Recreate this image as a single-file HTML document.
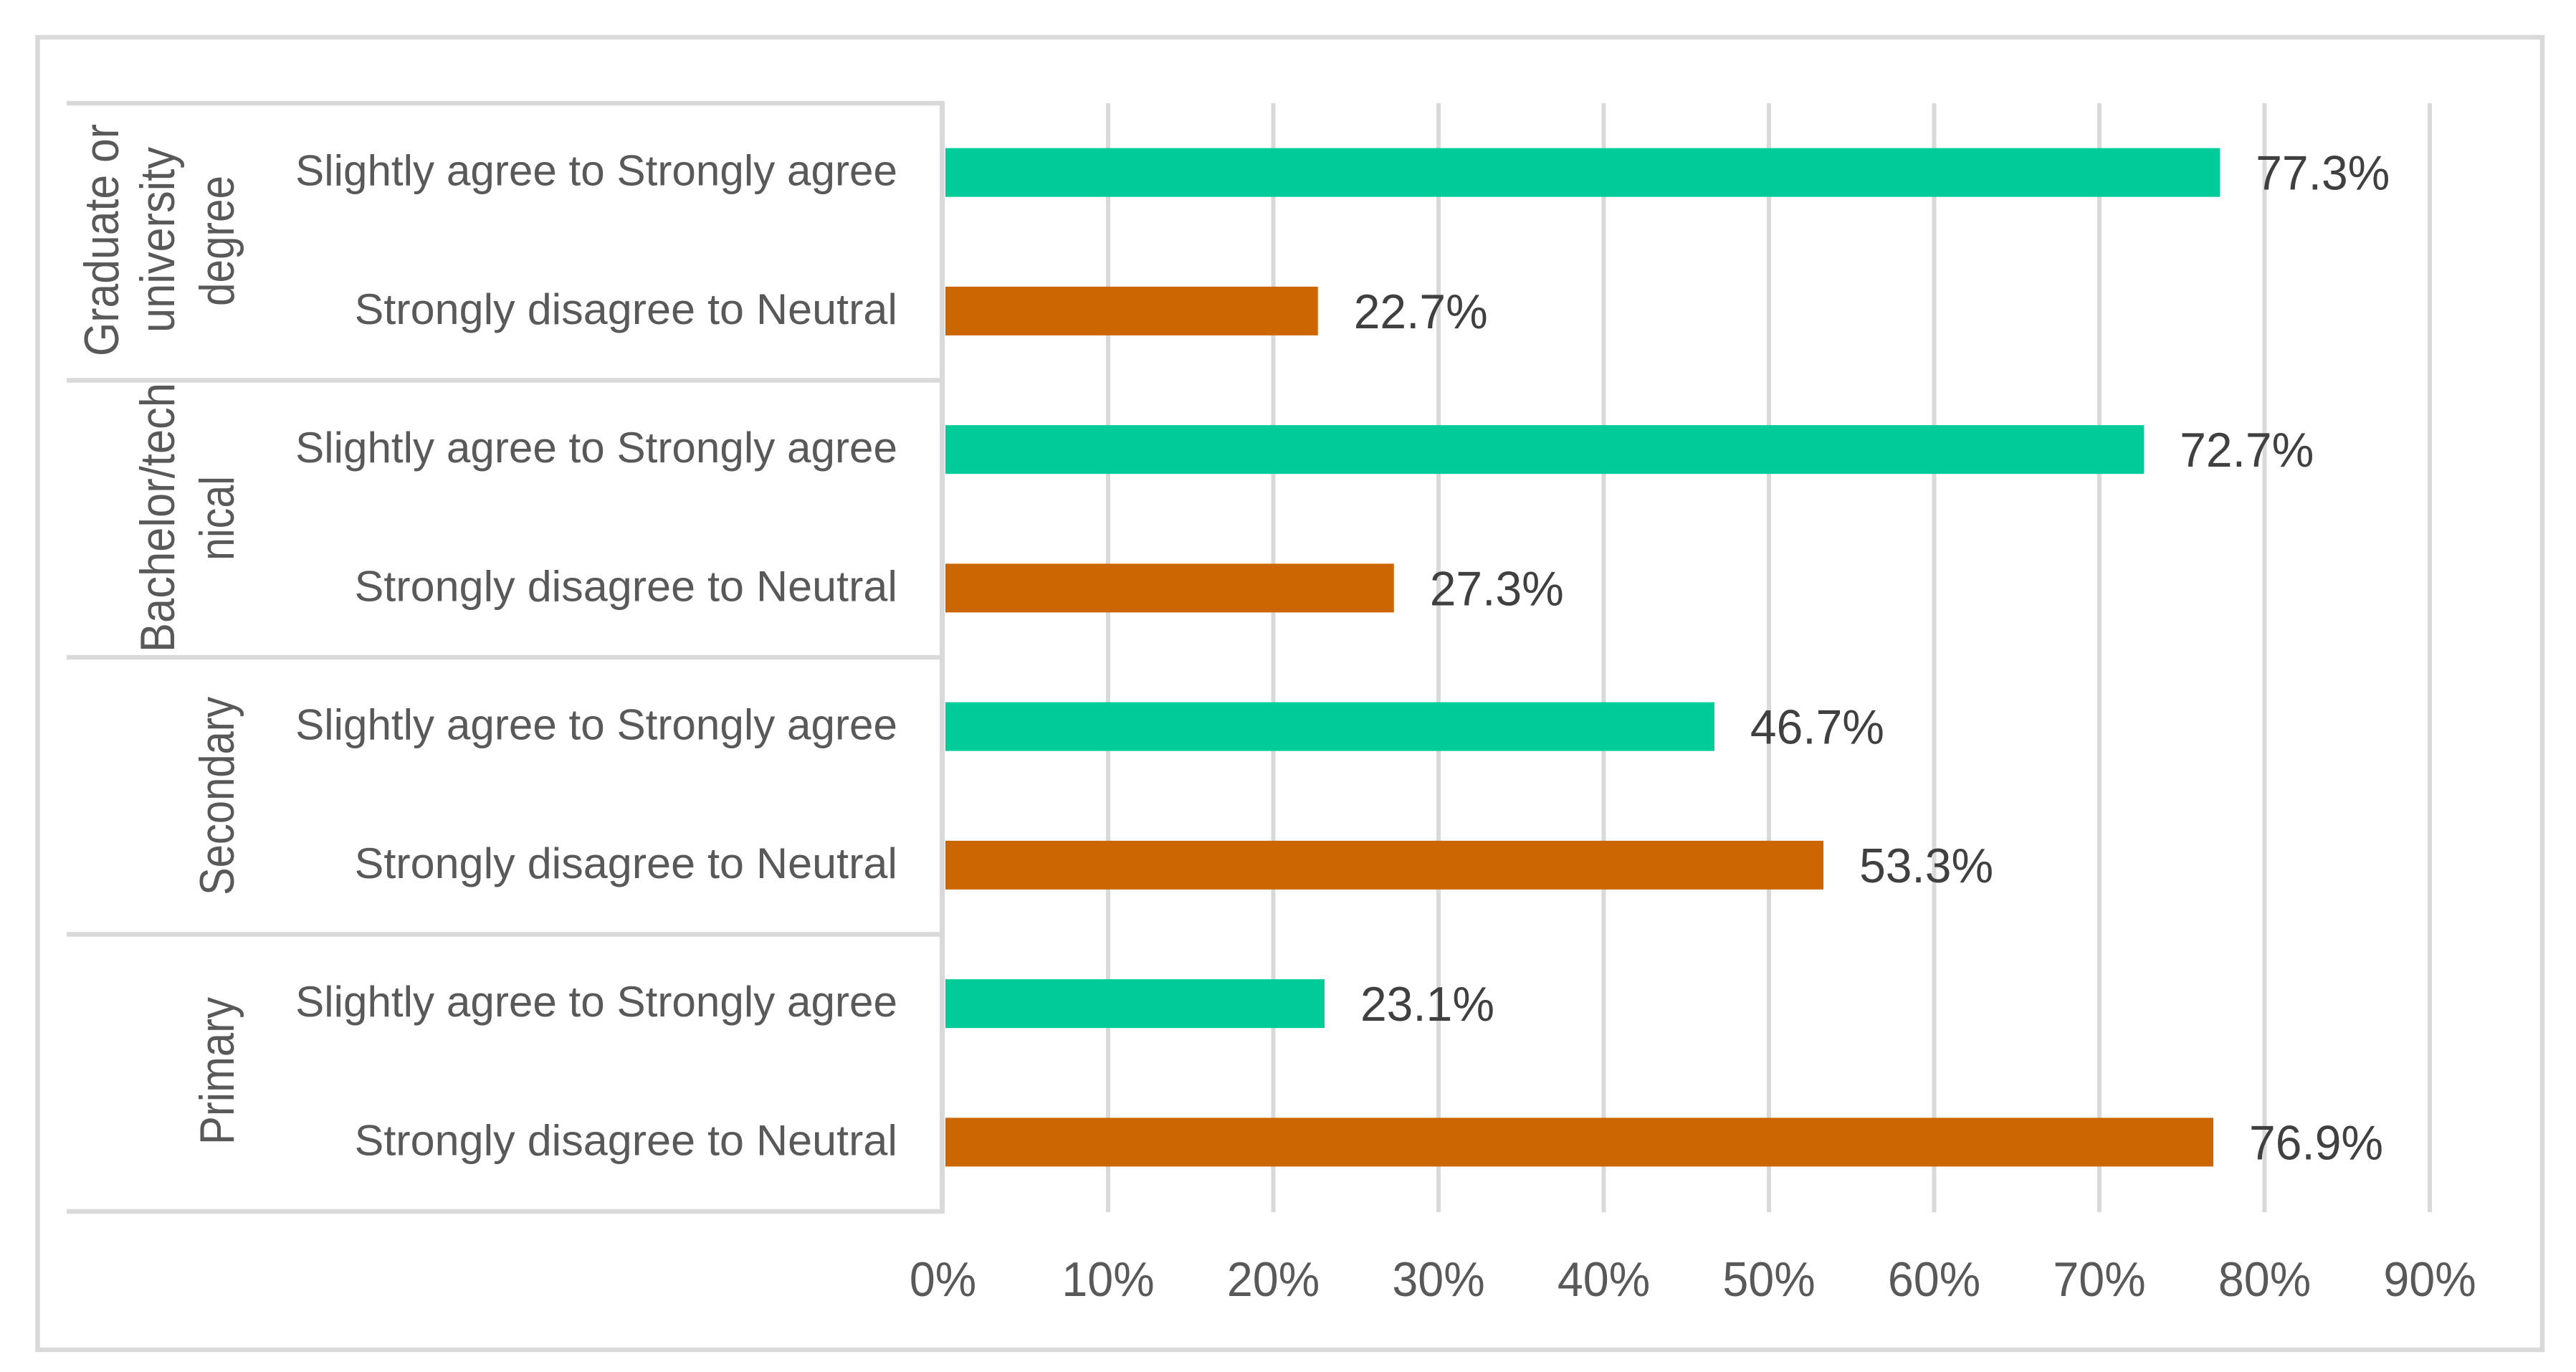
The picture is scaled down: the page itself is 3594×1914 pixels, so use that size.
<!DOCTYPE html>
<html lang="en">
<head>
<meta charset="utf-8">
<title>Agreement by education level</title>
<style>
html,body{margin:0;padding:0;background:#fff;width:3594px;height:1914px;overflow:hidden}
svg{display:block}
text{font-family:"Liberation Sans",sans-serif}
</style>
</head>
<body>
<svg id="chart" xmlns="http://www.w3.org/2000/svg" width="3594" height="1914" viewBox="0 0 3594 1914">
  <rect x="0" y="0" width="3594" height="1914" fill="#ffffff"/>
  <rect x="52.5" y="52" width="3494.5" height="1831" fill="#ffffff" stroke="#d9d9d9" stroke-width="6.5"/>
  <g id="grid"></g>
  <g id="bars"></g>
  <g id="axis"></g>
  <g font-size="68" fill="#595959">
    <text transform="translate(165,497) rotate(-90)" textLength="324" lengthAdjust="spacingAndGlyphs">Graduate or</text>
    <text transform="translate(243,464) rotate(-90)" textLength="259" lengthAdjust="spacingAndGlyphs">university</text>
    <text transform="translate(326,427) rotate(-90)" textLength="182" lengthAdjust="spacingAndGlyphs">degree</text>
    <text transform="translate(243,910) rotate(-90)" textLength="376" lengthAdjust="spacingAndGlyphs">Bachelor/tech</text>
    <text transform="translate(326,782) rotate(-90)" textLength="118" lengthAdjust="spacingAndGlyphs">nical</text>
    <text transform="translate(326,1249) rotate(-90)" textLength="277" lengthAdjust="spacingAndGlyphs">Secondary</text>
    <text transform="translate(326,1597) rotate(-90)" textLength="206" lengthAdjust="spacingAndGlyphs">Primary</text>
  </g>
</svg>
<script>
const groups = ['Graduate or university degree', 'Bachelor/technical', 'Secondary', 'Primary'];
const responses = ['Slightly agree to Strongly agree', 'Strongly disagree to Neutral'];
const agreeValues = [77.3, 72.7, 46.7, 23.1];
const disagreeValues = [22.7, 27.3, 53.3, 76.9];
const tickValues = [0, 10, 20, 30, 40, 50, 60, 70, 80, 90];
const tickLabels = ['0%', '10%', '20%', '30%', '40%', '50%', '60%', '70%', '80%', '90%'];

const NS = 'http://www.w3.org/2000/svg';
const plotTop = 144;
const groupHeight = 386.5;
const rowHeight = groupHeight / responses.length;
const xZero = 1315.5;
const xPerUnit = 23.05;
const xScale = function (v) { return xZero + v * xPerUnit; };
const yCenter = function (groupIndex, responseIndex) {
  return plotTop + groupIndex * groupHeight + (responseIndex + 0.5) * rowHeight;
};
const plotBottom = plotTop + groups.length * groupHeight;

function make(tag, attrs, parent, content) {
  const el = document.createElementNS(NS, tag);
  Object.keys(attrs).forEach(function (k) { el.setAttribute(k, attrs[k]); });
  if (content !== undefined) el.textContent = content;
  parent.appendChild(el);
  return el;
}
function squeeze(el, factor) {
  el.setAttribute('textLength', el.getComputedTextLength() * factor);
  el.setAttribute('lengthAdjust', 'spacingAndGlyphs');
}

const gridLayer = document.getElementById('grid');
const barLayer = document.getElementById('bars');
const axisLayer = document.getElementById('axis');

tickValues.forEach(function (t, i) {
  if (t !== 0) {
    const line = make('line', { x1: xScale(t), x2: xScale(t), y1: plotTop, y2: plotBottom + 1, stroke: '#d9d9d9', 'stroke-width': 6 }, gridLayer);
    
    
  }
  const label = make('text', { x: xScale(t), y: 1808, 'text-anchor': 'middle', 'font-size': 68, fill: '#595959' }, axisLayer, tickLabels[i]);
  
  
  squeeze(label, 0.95);
});

const axisLine = make('line', { x1: xZero - 1, x2: xZero - 1, y1: plotTop - 3, y2: plotBottom + 3, stroke: '#d9d9d9', 'stroke-width': 7 }, axisLayer);



for (let g = 0; g <= groups.length; g++) {
  const y = plotTop + g * groupHeight;
  const sep = make('line', { x1: 93, x2: xZero - 1, y1: y, y2: y, stroke: '#d9d9d9', 'stroke-width': 6.5 }, axisLayer);
  
  
}

groups.forEach(function (group, g) {
  const rows = [agreeValues[g], disagreeValues[g]];
  const colors = ['#00cc99', '#cc6600'];
  const kinds = ['agree', 'disagree'];
  const labelStretch = [0.995, 1.01];
  rows.forEach(function (value, r) {
    const cy = yCenter(g, r);
    const bar = make('rect', { x: xZero + 3.5, y: cy - 34, width: xScale(value) - xZero - 3.5, height: 68, fill: colors[r] }, barLayer);
    
    

    const valueLabel = make('text', { x: xScale(value) + 50, y: cy + 24, 'font-size': 68, fill: '#404040' }, barLayer, value.toFixed(1) + '%');
    
    
    squeeze(valueLabel, 0.97);

    const rowLabel = make('text', { x: 1252, y: cy + 18, 'text-anchor': 'end', 'font-size': 60.5, fill: '#595959' }, axisLayer, responses[r]);
    
    
    squeeze(rowLabel, labelStretch[r]);
  });
});
</script>
</body>
</html>
